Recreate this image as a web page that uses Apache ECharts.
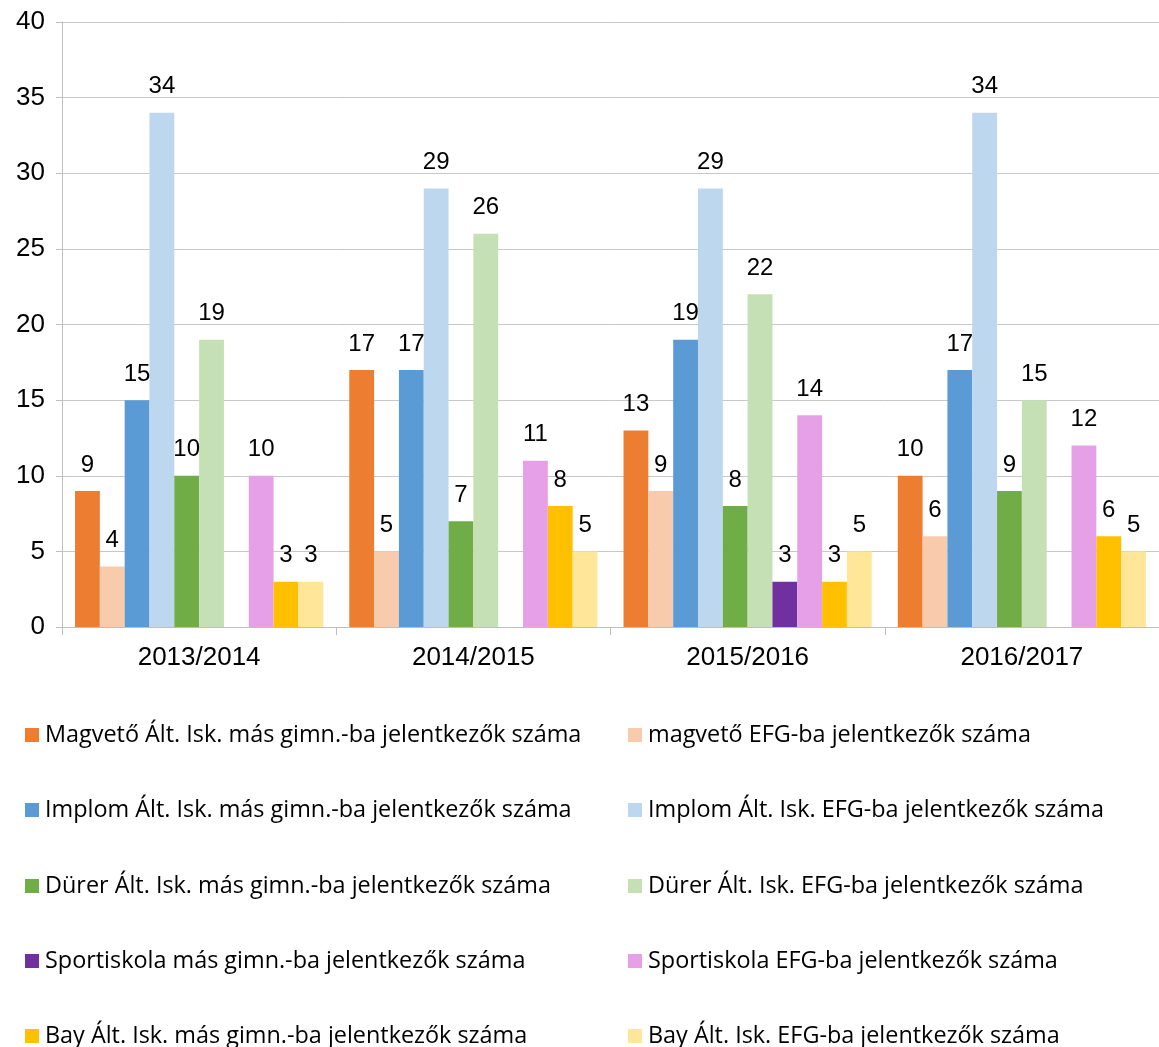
<!DOCTYPE html>
<html>
<head>
<meta charset="utf-8">
<script src="https://cdn.jsdelivr.net/npm/echarts@6/dist/echarts.min.js"></script>
<style>
  html, body { margin: 0; padding: 0; background: #fff; }
  #chart { width: 1159px; height: 1047px; }
</style>
</head>
<body>
<div id="chart"></div>
<script>
// tanévek
var years = ['2013/2014', '2014/2015', '2015/2016', '2016/2017'];

var seriesNames = [
    'Magvető Ált. Isk. más gimn.-ba jelentkezők száma',
    'magvető EFG-ba jelentkezők száma',
    'Implom Ált. Isk. más gimn.-ba jelentkezők száma',
    'Implom Ált. Isk. EFG-ba jelentkezők száma',
    'Dürer Ált. Isk. más gimn.-ba jelentkezők száma',
    'Dürer Ált. Isk. EFG-ba jelentkezők száma',
    'Sportiskola más gimn.-ba jelentkezők száma',
    'Sportiskola EFG-ba jelentkezők száma',
    'Bay Ált. Isk. más gimn.-ba jelentkezők száma',
    'Bay Ált. Isk. EFG-ba jelentkezők száma'
];

var magvetoMas   = [9, 17, 13, 10];
var magvetoEfg   = [4, 5, 9, 6];
var implomMas    = [15, 17, 19, 17];
var implomEfg    = [34, 29, 29, 34];
var durerMas     = [10, 7, 8, 9];
var durerEfg     = [19, 26, 22, 15];
var sportMas     = [null, null, 3, null];
var sportEfg     = [10, 11, 14, 12];
var bayMas       = [3, 8, 3, 6];
var bayEfg       = [3, 5, 5, 5];

var yTicks = [0, 5, 10, 15, 20, 25, 30, 35, 40];

var allData = [magvetoMas, magvetoEfg, implomMas, implomEfg, durerMas, durerEfg, sportMas, sportEfg, bayMas, bayEfg];
var colors = ['#ED7D31', '#F8CBAD', '#5B9BD5', '#BDD7EE', '#70AD47', '#C5E0B4', '#7030A0', '#E6A0E8', '#FFC000', '#FFE699'];

var chart = echarts.init(document.getElementById('chart'));

var series = allData.map(function (d, i) {
    return {
        name: seriesNames[i],
        type: 'bar',
        data: d,
        barGap: '0%',
        barCategoryGap: '9.5%',
        itemStyle: { color: colors[i] },
        label: {
            show: true,
            position: 'top',
            distance: 14,
            color: '#000',
            fontFamily: 'Liberation Sans',
            fontSize: 24
        }
    };
});

// jelmagyarázat: két oszlop, soronként egy-egy elem
var rowY = [735, 810, 886, 961, 1036];
var legends = seriesNames.map(function (name, i) {
    return {
        orient: 'horizontal',
        left: i % 2 === 0 ? 25 : 628,
        top: rowY[Math.floor(i / 2)] - 12,
        padding: 0,
        itemWidth: 14,
        itemHeight: 14,
        icon: 'rect',
        textStyle: { color: '#000', fontFamily: 'Open Sans', fontSize: 23.4, lineHeight: 24, padding: [0, 0, 0, 1] },
        data: [name]
    };
});

var option = {
    backgroundColor: '#fff',
    animation: false,
    grid: { left: 62, right: -15, top: 22, bottom: 420, containLabel: false },
    legend: legends,
    xAxis: {
        type: 'category',
        data: years,
        axisLine: { lineStyle: { color: '#BFBFBF', width: 1 } },
        axisTick: { show: true, length: 8, lineStyle: { color: '#BFBFBF' } },
        axisLabel: { color: '#000', fontFamily: 'Liberation Sans', fontSize: 26, margin: 18 }
    },
    yAxis: {
        type: 'value',
        min: yTicks[0],
        max: yTicks[yTicks.length - 1],
        interval: 5,
        axisLine: { show: true, lineStyle: { color: '#BFBFBF' } },
        axisTick: { show: true, length: 6, lineStyle: { color: '#BFBFBF' } },
        splitLine: { show: true, lineStyle: { color: '#C8C8C8', width: 1 } },
        axisLabel: { color: '#000', fontFamily: 'Liberation Sans', fontSize: 26, margin: 17 }
    },
    series: series
};

chart.setOption(option);
</script>
</body>
</html>
